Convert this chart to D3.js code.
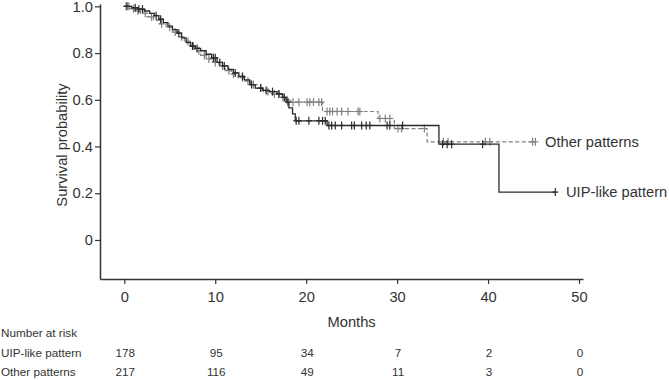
<!DOCTYPE html>
<html>
<head>
<meta charset="utf-8">
<script src="https://cdn.jsdelivr.net/npm/d3@7"></script>
<style>
  body { margin: 0; background: #fff; }
  svg text { font-family: "Liberation Sans", Arial, sans-serif; }
</style>
</head>
<body>
<svg id="svg" width="669" height="380"></svg>
<script>
// Kaplan-Meier step points [month, survival]
const uipSteps = [
  [0, 1.0], [0.8, 0.994], [1.5, 0.988], [2.2, 0.98], [2.8, 0.97], [3.3, 0.96],
  [3.8, 0.945], [4.3, 0.93], [4.8, 0.915], [5.3, 0.90], [5.8, 0.885], [6.3, 0.865],
  [6.8, 0.845], [7.3, 0.83], [7.8, 0.82], [8.4, 0.81], [9.0, 0.795], [9.6, 0.78],
  [10.2, 0.76], [10.8, 0.745], [11.4, 0.73], [12.0, 0.715], [12.6, 0.70], [13.2, 0.685],
  [13.8, 0.665], [14.4, 0.65], [15.2, 0.64], [16.0, 0.635], [16.8, 0.625], [17.4, 0.61],
  [17.8, 0.59], [18.1, 0.565], [18.5, 0.54], [18.8, 0.51], [22.3, 0.49], [34.6, 0.41],
  [41.2, 0.205]
]
const uipEnd = 47.4
const uipCensored = [
  0.3, 1.2, 1.6, 2.0, 3.5, 4.0, 6.0, 7.5, 8.0, 9.8, 10.0, 10.5, 11.0, 12.2, 13.0,
  14.0, 15.0, 15.6, 16.3, 17.0, 17.6, 18.0,
  18.9, 19.2, 20.3, 21.4, 21.8, 22.1, 22.5, 22.8, 23.2, 23.9, 25.0, 25.3, 26.1, 26.6,
  27.0, 28.9, 29.2, 30.6, 35.0, 35.5, 36.0, 39.4, 47.4
]

const otherSteps = [
  [0, 1.0], [0.6, 0.99], [1.2, 0.98], [1.8, 0.97], [2.5, 0.955], [3.2, 0.94],
  [3.9, 0.925], [4.6, 0.91], [5.3, 0.89], [6.0, 0.87], [6.6, 0.85], [7.2, 0.83],
  [7.8, 0.81], [8.4, 0.79], [9.0, 0.775], [9.7, 0.76], [10.4, 0.745], [11.1, 0.725],
  [11.8, 0.71], [12.5, 0.695], [13.2, 0.68], [13.9, 0.665], [14.6, 0.65], [15.3, 0.635],
  [16.2, 0.625], [17.1, 0.61], [17.8, 0.60], [18.3, 0.59], [21.8, 0.55], [27.9, 0.52],
  [29.7, 0.477], [33.3, 0.42]
]
const otherEnd = 45.2
const otherCensored = [
  0.2, 0.5, 1.0, 1.5, 2.3, 3.0, 4.1, 5.0, 5.6, 6.3, 7.0, 7.6, 8.2, 8.8, 9.3, 10.0,
  10.8, 11.5, 12.0, 13.0, 13.6, 14.2, 15.0, 15.8, 16.5, 17.0, 17.45, 17.9,
  18.55, 19.2, 20.1, 20.4, 20.8, 21.4, 21.7, 22.3, 22.6, 22.9, 23.4, 23.9, 24.6,
  25.7, 25.9, 28.1, 28.7, 29.2, 30.1, 30.5, 33.0, 35.1, 35.6, 39.7, 40.2, 44.9, 45.2
]

const xTicks = [0, 10, 20, 30, 40, 50]
const yTicks = [0, 0.2, 0.4, 0.6, 0.8, 1.0]
const groupNames = ['UIP-like pattern', 'Other patterns']
const riskUip = [178, 95, 34, 7, 2, 0]
const riskOther = [217, 116, 49, 11, 3, 0]

const svg = d3.select('#svg')

const xScale = d3.scaleLinear()
  .domain([-2.67, 50.44])
  .range([100, 583])

const yScale = d3.scaleLinear()
  .domain([-0.167, 1.01])
  .range([279, 4])

const axisColor = '#333'
const fontSize = 14.7

// y axis
const yAxis = svg.append('g')
  .attr('transform', 'translate(100,0)')
  .call(d3.axisLeft(yScale)
    .tickValues(yTicks)
    .tickFormat(d => d === 0 ? '0' : d3.format('.1f')(d))
    .tickSize(5)
    .tickSizeOuter(0)
    .tickPadding(2))
yAxis.select('.domain').attr('stroke', axisColor).attr('stroke-width', 1.5)
yAxis.selectAll('.tick line').attr('stroke', axisColor).attr('stroke-width', 1.2)
yAxis.selectAll('.tick text')
  .attr('fill', '#333')
  .style('font-size', fontSize + 'px')

// x axis
const xAxis = svg.append('g')
  .attr('transform', 'translate(0,279)')
  .call(d3.axisBottom(xScale)
    .tickValues(xTicks)
    .tickSize(5)
    .tickSizeOuter(0)
    .tickPadding(8))
xAxis.select('.domain').attr('stroke', axisColor).attr('stroke-width', 1.5)
xAxis.selectAll('.tick line').attr('stroke', axisColor).attr('stroke-width', 1.2)
xAxis.selectAll('.tick text')
  .attr('fill', '#333')
  .style('font-size', fontSize + 'px')

svg.append('text')
  .attr('transform', 'translate(67,145) rotate(-90)')
  .attr('text-anchor', 'middle')
  .attr('fill', '#333')
  .style('font-size', fontSize + 'px')
  .text('Survival probability')

svg.append('text')
  .attr('x', xScale(25))
  .attr('y', 327)
  .attr('text-anchor', 'middle')
  .attr('fill', '#333')
  .style('font-size', fontSize + 'px')
  .text('Months')

// curves
function survAt(steps, t) {
  let s = steps[0][1]
  steps.forEach(d => { if (d[0] <= t) s = d[1] })
  return s
}

const lineGen = d3.line()
  .x(d => xScale(d[0]))
  .y(d => yScale(d[1]))
  .curve(d3.curveStepAfter)

function drawCurve(steps, end, censored, color, dash, width) {
  const pts = steps.concat([[end, steps[steps.length - 1][1]]])
  svg.append('path')
    .attr('d', lineGen(pts))
    .attr('fill', 'none')
    .attr('stroke', color)
    .attr('stroke-width', width)
    .attr('stroke-dasharray', dash)

  const marks = svg.append('g')
    .attr('stroke', color)
    .attr('stroke-width', 1.2)
  censored.forEach(t => {
    const cx = xScale(t)
    const cy = yScale(survAt(steps, t))
    marks.append('line')
      .attr('x1', cx).attr('x2', cx)
      .attr('y1', cy - 4).attr('y2', cy + 4)
    marks.append('line')
      .attr('x1', cx - 3).attr('x2', cx + 3)
      .attr('y1', cy).attr('y2', cy)
  })
}

drawCurve(otherSteps, otherEnd, otherCensored, '#808080', '4,2.5', 1.2)
drawCurve(uipSteps, uipEnd, uipCensored, '#2a2a2a', null, 1.3)

// curve labels
svg.append('text')
  .attr('x', 545)
  .attr('y', yScale(survAt(otherSteps, otherEnd)) + 5)
  .attr('fill', '#333')
  .style('font-size', fontSize + 'px')
  .text(groupNames[1])

svg.append('text')
  .attr('x', 566)
  .attr('y', yScale(survAt(uipSteps, uipEnd)) + 5)
  .attr('fill', '#333')
  .style('font-size', fontSize + 'px')
  .text(groupNames[0])

// number at risk table
const riskFont = 11.7
svg.append('text')
  .attr('x', 1)
  .attr('y', 337)
  .attr('fill', '#333')
  .style('font-size', riskFont + 'px')
  .text('Number at risk')

const rows = [[groupNames[0], riskUip, 357], [groupNames[1], riskOther, 376]]
rows.forEach(([name, vals, y]) => {
  svg.append('text')
    .attr('x', 1)
    .attr('y', y)
    .attr('fill', '#333')
    .style('font-size', riskFont + 'px')
    .text(name)
  svg.append('g')
    .selectAll('text')
    .data(vals)
    .join('text')
    .attr('x', (d, i) => xScale(xTicks[i]) + 1)
    .attr('y', y)
    .attr('text-anchor', 'middle')
    .attr('fill', '#333')
    .style('font-size', riskFont + 'px')
    .text(d => d)
})
</script>
</body>
</html>
